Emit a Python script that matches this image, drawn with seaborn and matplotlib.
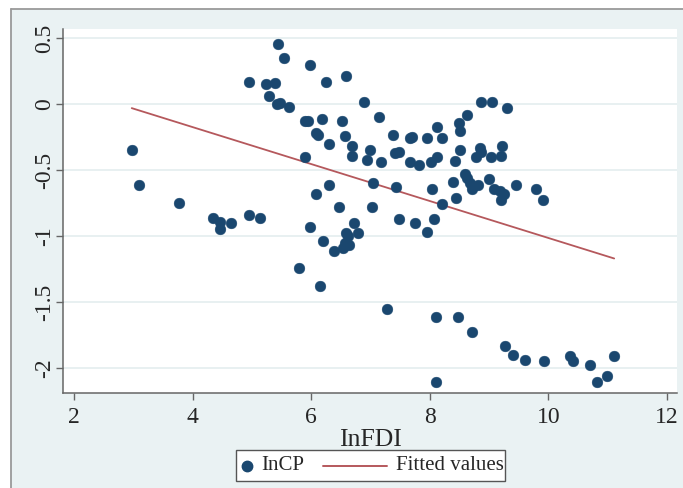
import matplotlib
matplotlib.use("Agg")
import matplotlib.pyplot as plt
import seaborn as sns
import pandas as pd
from matplotlib.lines import Line2D
from matplotlib.patches import Rectangle

lnfdi = [2.97, 3.10, 3.77, 4.34, 4.46, 4.46, 4.65, 4.95, 5.14, 4.95, 5.24, 5.39, 5.29, 5.44, 5.54,
         5.42, 5.47, 5.62, 5.98, 6.25, 6.58, 5.90, 5.95, 6.18, 6.08, 6.12, 6.30, 6.52, 6.57, 5.89,
         6.30, 6.08, 6.46, 5.97, 6.20, 5.79, 6.15, 6.38, 6.89, 7.14, 6.69, 6.69, 6.99, 6.94, 7.17,
         7.04, 7.03, 7.38, 7.42, 7.48, 7.43, 7.48, 7.67, 7.70, 7.67, 7.82, 7.75, 7.95, 7.95, 8.04,
         8.02, 8.12, 8.12, 8.20, 8.21, 8.07, 8.43, 8.39, 8.44, 8.50, 8.51, 8.63, 8.51, 8.59, 8.63,
         8.68, 8.71, 8.81, 8.78, 8.85, 8.86, 8.86, 9.05, 9.30, 9.03, 9.20, 9.22, 9.00, 9.08, 9.18,
         9.25, 9.20, 9.45, 9.79, 9.91, 6.72, 6.59, 6.79, 6.62, 6.57, 6.64, 6.54, 7.28, 8.10, 8.48,
         8.71, 9.27, 9.40, 9.61, 9.93, 10.36, 10.41, 10.70, 11.11, 10.99, 10.82, 8.10]
lncp = [-0.35, -0.61, -0.75, -0.86, -0.89, -0.95, -0.90, -0.84, -0.86, 0.17, 0.15, 0.16, 0.06, 0.46, 0.35,
        0.00, 0.01, -0.02, 0.30, 0.17, 0.21, -0.13, -0.13, -0.11, -0.22, -0.23, -0.30, -0.13, -0.24, -0.40,
        -0.61, -0.68, -0.78, -0.93, -1.04, -1.24, -1.38, -1.11, 0.02, -0.10, -0.32, -0.39, -0.35, -0.42, -0.44,
        -0.60, -0.78, -0.23, -0.37, -0.36, -0.63, -0.87, -0.26, -0.25, -0.44, -0.46, -0.90, -0.26, -0.97, -0.64,
        -0.44, -0.40, -0.17, -0.26, -0.76, -0.87, -0.43, -0.59, -0.71, -0.14, -0.20, -0.08, -0.35, -0.53, -0.56,
        -0.60, -0.64, -0.61, -0.40, -0.33, -0.36, 0.02, 0.02, -0.03, -0.40, -0.39, -0.32, -0.57, -0.64, -0.66,
        -0.68, -0.73, -0.61, -0.64, -0.73, -0.90, -0.98, -0.98, -1.00, -1.05, -1.07, -1.09, -1.55, -1.61, -1.61,
        -1.73, -1.83, -1.90, -1.94, -1.95, -1.91, -1.95, -1.98, -1.91, -2.06, -2.11, -2.11]

fit_x = [2.97, 11.11]
fit_y = [-0.03, -1.17]

x_ticks = [2, 4, 6, 8, 10, 12]
y_ticks = [0.5, 0, -0.5, -1, -1.5, -2]
y_tick_labels = ["0.5", "0", "-0.5", "-1", "-1.5", "-2"]
legend_labels = ["InCP", "Fitted values"]

df = pd.DataFrame({"lnFDI": lnfdi, "lnCP": lncp})
fit_df = pd.DataFrame({"x": fit_x, "y": fit_y})

sns.set_theme(style="white")
plt.rcParams['font.family'] = ['Liberation Serif', 'DejaVu Serif']

W, H = 683, 488
bg = "#EAF2F3"
navy = "#1A476F"
maroon = "#B5585C"
frame_gray = "#9A9A9A"

def fx(px):
    return px / W

def fy(py):
    return 1 - py / H

fig = plt.figure(figsize=(6.83, 4.88), dpi=100, facecolor="white")
# outer Stata-like background region with top/left frame lines
fig.add_artist(Rectangle((fx(11), 0), 1 - fx(11), fy(9), transform=fig.transFigure,
                         facecolor=bg, edgecolor="none", zorder=-10))
fig.add_artist(Line2D([fx(10.5), 1], [fy(9), fy(9)], transform=fig.transFigure, color=frame_gray, lw=1.3))
fig.add_artist(Line2D([fx(10.5), fx(10.5)], [0, fy(9)], transform=fig.transFigure, color=frame_gray, lw=1.3))

ax = fig.add_axes([fx(63), fy(393), (677 - 63) / W, (393 - 29) / H])
ax.set_facecolor("white")

for yv in y_ticks:
    ax.axhline(yv, color="#E4EDEF", lw=1.2, zorder=0)

sns.lineplot(data=fit_df, x="x", y="y", ax=ax, color=maroon, lw=1.3, zorder=2, legend=False)
sns.scatterplot(data=df, x="lnFDI", y="lnCP", ax=ax, color=navy, s=60, edgecolor=navy,
                linewidth=0.3, zorder=3, legend=False)

ax.set_xlim(1.81, 12.17)
ax.set_ylim(-2.19, 0.57)
ax.set_xticks(x_ticks)
ax.set_xticklabels([str(t) for t in x_ticks], fontsize=17)
ax.set_yticks(y_ticks)
ax.set_yticklabels(y_tick_labels, fontsize=17, rotation=90, va="center")
ax.tick_params(axis="both", direction="out", length=5, width=1, color="#666666", pad=5)
ax.tick_params(axis="x", bottom=True)
ax.tick_params(axis="y", left=True, pad=0.5)

for side in ["top", "right"]:
    ax.spines[side].set_visible(False)
for side in ["left", "bottom"]:
    ax.spines[side].set_color("#666666")
    ax.spines[side].set_linewidth(1.1)

ax.set_xlabel("InFDI", fontsize=18.5, labelpad=1)
ax.set_ylabel("")

# legend box (Stata style: short marker key, long line key)
fig.add_artist(Rectangle((fx(236), fy(481)), fx(505) - fx(236), fy(450) - fy(481),
                         transform=fig.transFigure, facecolor="white", edgecolor="#555555",
                         lw=1.0, zorder=5))
fig.add_artist(Line2D([fx(247)], [fy(465.5)], transform=fig.transFigure, marker="o", markersize=7.5,
                      color=navy, linestyle="none", zorder=6))
fig.text(fx(261), fy(465.5), legend_labels[0], fontsize=15, va="center", ha="left", zorder=6)
fig.add_artist(Line2D([fx(323), fx(387)], [fy(465.5), fy(465.5)], transform=fig.transFigure,
                      color=maroon, lw=1.4, zorder=6))
fig.text(fx(396), fy(465.5), legend_labels[1], fontsize=15, va="center", ha="left", zorder=6)

fig.savefig("out.png", dpi=100, facecolor="white")
